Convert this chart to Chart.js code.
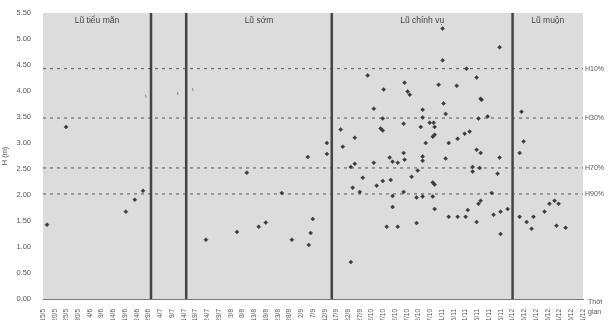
<!DOCTYPE html>
<html>
<head>
<meta charset="utf-8">
<script src="https://cdn.jsdelivr.net/npm/chart.js@4.4.1/dist/chart.umd.min.js"></script>
<style>
  html, body { margin: 0; padding: 0; background: #fff; }
</style>
</head>
<body>
<canvas id="chart" width="608" height="320"></canvas>
<script>
// tick labels, every 5 days from 15/5
const xLabels = ['15/5','20/5','25/5','30/5','4/6','9/6','14/6','19/6','24/6','29/6',
  '4/7','9/7','14/7','19/7','24/7','29/7','3/8','8/8','13/8','18/8','23/8','28/8',
  '2/9','7/9','12/9','17/9','22/9','27/9','2/10','7/10','12/10','17/10','22/10','27/10',
  '1/11','6/11','11/11','16/11','21/11','26/11','1/12','6/12','11/12','16/12','21/12','26/12','31/12']

// season boundaries, days after 15/5
const seasonBounds = [46, 61, 123, 200]
const seasonNames = ['Lũ tiểu mãn', 'Lũ sớm', 'Lũ chính vụ', 'Lũ muộn']
const seasonCenters = [23, 92, 161.5, 215]

// frequency levels (m)
const levelNames = ['H10%', 'H30%', 'H70%', 'H90%']
const levelValues = [4.43, 3.48, 2.52, 2.02]

// observed peaks: [day after 15/5, H (m)]
const tieuMan = [[1.7,1.43],[9.8,3.31],[35.3,1.68],[39.1,1.91],[42.6,2.08]]
const faint = [[43.8,3.90],[57.4,3.95],[63.8,4.03]]
const luSom = [[69.4,1.14],[82.6,1.29],[91.9,1.39],[94.9,1.47],[86.8,2.43],[101.7,2.04],
  [106,1.14],[113.2,1.04],[114,1.27],[114.9,1.54],[112.8,2.73],[120.9,3.0],[120.9,2.79]]
const chinhVu = [[131.1,0.71],[140.9,3.66],[161.7,3.64],[170.6,3.76],[171.5,3.56],[186.8,3.83],
  [144.7,3.47],[161.7,3.49],[126.8,3.26],[143.8,3.28],[144.7,3.24],[153.6,3.37],[160.9,3.31],
  [164.7,3.39],[166.4,3.39],[166.8,3.31],[166,3.12],[166.8,3.16],[132.8,3.10],[127.7,2.93],
  [163,3.0],[172.8,3.0],[176.6,3.08],[179.6,3.18],[181.7,3.22],[184.7,2.87],[186.4,2.81],
  [153.6,2.81],[154,2.68],[147.7,2.72],[148.9,2.64],[151.1,2.62],[161.7,2.74],[161.7,2.66],
  [171.5,2.70],[194.5,2.72],[183,2.45],[183,2.54],[186,2.52],[193.6,2.41],[132.8,2.60],
  [131.1,2.54],[140.9,2.62],[159.6,2.47],[136.2,2.33],[144.7,2.27],[148.1,2.29],[142.1,2.18],
  [131.9,2.14],[134.9,2.06],[157,2.35],[166,2.24],[166.8,2.20],[148.9,1.98],[153.6,2.06],
  [159.1,1.95],[161.7,1.97],[166,1.97],[186.4,1.89],[185.5,1.83],[191.1,2.04],[148.9,1.77],
  [166.8,1.73],[172.8,1.58],[176.6,1.58],[180,1.58],[180.9,1.71],[191.9,1.62],[194.9,1.68],
  [197.9,1.73],[184.7,1.48],[194.9,1.25],[159.1,1.46],[146.4,1.39],[151.1,1.39],[185.5,3.47],
  [189.4,3.51],[170.2,5.20],[194.5,4.84],[170.2,4.59],[154,4.16],[155.3,3.99],[156.2,3.93],
  [168.5,4.12],[176.2,4.10],[184.7,4.26],[186.4,3.85],[145.1,4.03],[180.4,4.43],[138.3,4.30]]
const luMuon = [[203.8,3.60],[204.7,3.03],[203,2.81],[215.7,1.83],[217.9,1.89],[219.6,1.83],
  [213.6,1.68],[203,1.58],[206,1.48],[208.9,1.58],[208.1,1.35],[218.7,1.41],[222.6,1.37]]

const toPts = arr => arr.map(p => ({ x: p[0], y: p[1] }))
const FONT = 'Liberation Sans'

const datasets = []
levelValues.forEach(v => {
  datasets.push({
    data: [{ x: 0, y: v }, { x: 230, y: v }],
    showLine: true, borderColor: '#555', borderWidth: 1, borderDash: [3, 4],
    pointRadius: 0, order: 3,
  })
})
seasonBounds.forEach(d => {
  datasets.push({
    data: [{ x: d, y: 0 }, { x: d, y: 5.5 }],
    showLine: true, borderColor: '#444', borderWidth: 2.5,
    pointRadius: 0, order: 2,
  })
})
datasets.push({
  data: toPts([...tieuMan, ...luSom, ...chinhVu, ...luMuon]),
  pointStyle: 'rectRot', pointRadius: 2, backgroundColor: '#3a3a3a', borderColor: '#3a3a3a',
  borderWidth: 0.5, order: 1,
})
datasets.push({
  data: toPts(faint),
  pointStyle: 'line', pointRadius: 1.5, rotation: 80, borderColor: '#888', borderWidth: 1, order: 1,
})

const decor = {
  id: 'decor',
  beforeDatasetsDraw(chart) {
    const { ctx, chartArea: a } = chart
    ctx.save()
    ctx.fillStyle = '#dcdcdc'
    ctx.fillRect(a.left, a.top, a.right - a.left, a.bottom - a.top)
    ctx.restore()
  },
  afterDraw(chart) {
    const { ctx, scales } = chart
    ctx.save()
    ctx.fillStyle = '#444'
    ctx.font = '8.5px "' + FONT + '"'
    ctx.textAlign = 'center'
    ctx.textBaseline = 'middle'
    seasonNames.forEach((n, i) => {
      ctx.fillText(n, scales.x.getPixelForValue(seasonCenters[i]), 21)
    })
    ctx.font = '7px "' + FONT + '"'
    ctx.fillStyle = '#555'
    ctx.textAlign = 'left'
    const xr = chart.chartArea.right + 2
    levelNames.forEach((n, i) => {
      ctx.fillText(n, xr, scales.y.getPixelForValue(levelValues[i]))
    })
    ctx.fillText('Thời', xr + 3, 302)
    ctx.fillText('gian', xr + 3, 312)
    ctx.restore()
  },
}

new Chart(document.getElementById('chart'), {
  type: 'scatter',
  data: { datasets },
  plugins: [decor],
  options: {
    responsive: false,
    animation: false,
    devicePixelRatio: 1,
    layout: { padding: { top: 13, right: 25, left: 0, bottom: 0 } },
    plugins: { legend: { display: false }, tooltip: { enabled: false } },
    scales: {
      x: {
        type: 'linear', min: 0, max: 230,
        grid: { display: false },
        border: { color: '#777', dash: [2, 2] },
        ticks: {
          stepSize: 5, autoSkip: false, maxRotation: 90, minRotation: 90,
          color: '#555', font: { family: FONT, size: 6.5 }, padding: 2,
          callback: v => xLabels[Math.round(v / 5)],
        },
        afterFit: s => { s.height = 21 },
      },
      y: {
        min: 0, max: 5.5,
        grid: { display: false },
        border: { color: '#777', dash: [2, 2] },
        ticks: {
          stepSize: 0.5, color: '#555', font: { family: FONT, size: 7.5 }, padding: 4,
          callback: v => v.toFixed(2),
        },
        title: { display: true, text: 'H (m)', color: '#555', font: { family: FONT, size: 7.5 }, padding: 0 },
        afterFit: s => { s.width = 43 },
      },
    },
  },
})
</script>
</body>
</html>
